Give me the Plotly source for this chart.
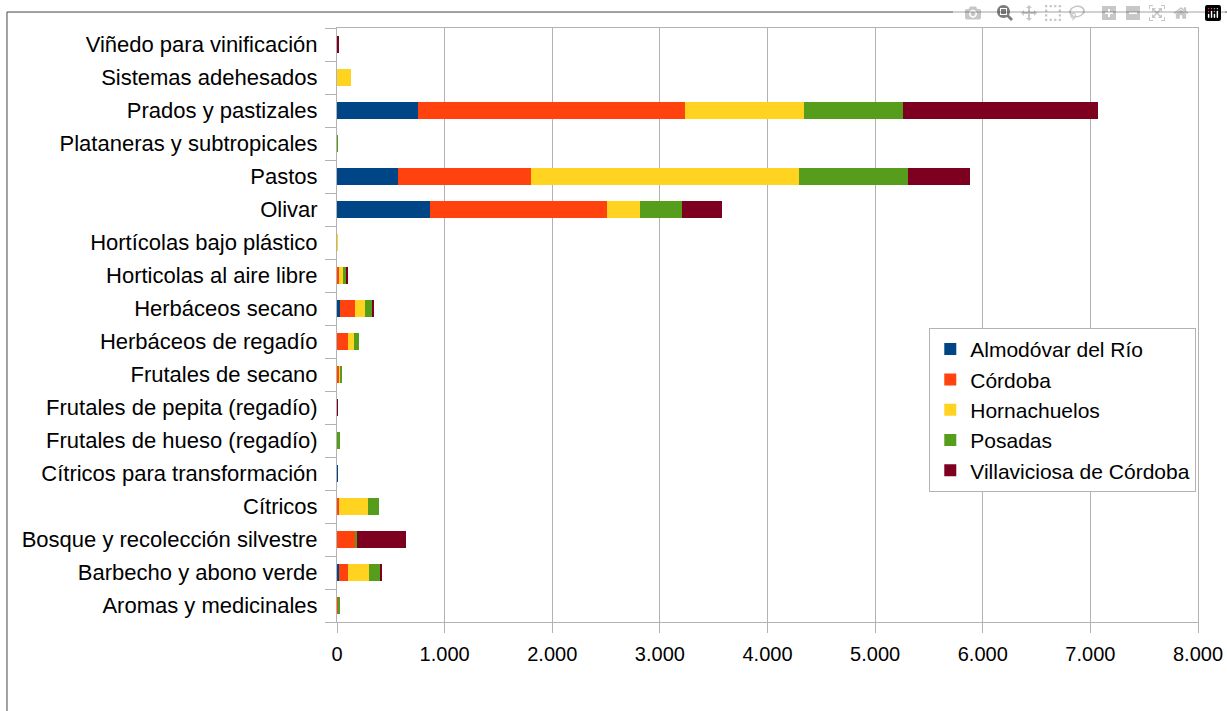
import plotly.graph_objects as go

# categories listed bottom -> top (plotly draws first category at the bottom)
categories = [
    "Aromas y medicinales",
    "Barbecho y abono verde",
    "Bosque y recolección silvestre",
    "Cítricos",
    "Cítricos para transformación",
    "Frutales de hueso (regadío)",
    "Frutales de pepita (regadío)",
    "Frutales de secano",
    "Herbáceos de regadío",
    "Herbáceos secano",
    "Horticolas al aire libre",
    "Hortícolas bajo plástico",
    "Olivar",
    "Pastos",
    "Plataneras y subtropicales",
    "Prados y pastizales",
    "Sistemas adehesados",
    "Viñedo para vinificación",
]

almodovar = [3, 19, 0, 5, 4, 0, 0, 0, 0, 28, 0, 0, 866, 569, 0, 751, 0, 3]
cordoba = [14, 83, 174, 14, 0, 0, 0, 19, 102, 139, 19, 0, 1643, 1236, 0, 2483, 0, 0]
hornachuelos = [0, 195, 0, 269, 0, 3, 0, 9, 56, 93, 37, 6, 305, 2488, 0, 1106, 130, 0]
posadas = [5, 102, 9, 102, 0, 25, 0, 18, 46, 65, 28, 0, 391, 1013, 6, 920, 0, 0]
villaviciosa = [0, 19, 458, 0, 0, 0, 5, 0, 0, 19, 9, 0, 371, 574, 0, 1812, 0, 8]

series = [
    ("Almodóvar del Río", almodovar, "#004586"),
    ("Córdoba", cordoba, "#ff420e"),
    ("Hornachuelos", hornachuelos, "#ffd320"),
    ("Posadas", posadas, "#579d1c"),
    ("Villaviciosa de Córdoba", villaviciosa, "#7e0021"),
]

fig = go.Figure()
for name, vals, color in series:
    fig.add_trace(go.Bar(
        y=categories,
        x=vals,
        name=name,
        legendgroup=name,
        orientation="h",
        marker=dict(color=color, line=dict(width=0)),
    ))

grid = "#b3b3b3"

fig.update_layout(
    barmode="stack",
    bargap=0.48,
    width=1227,
    height=711,
    margin=dict(l=337, r=29, t=28, b=89),
    plot_bgcolor="white",
    paper_bgcolor="white",
    separators=",.",
    font=dict(family="Liberation Sans, Arial, sans-serif", size=22, color="#000000"),
    showlegend=True,
    legend=dict(
        x=0.998, xanchor="right",
        y=0.495, yanchor="top",
        bordercolor=grid, borderwidth=1,
        bgcolor="white",
        font=dict(size=21),
        traceorder="normal",
        tracegroupgap=2,
        itemwidth=30,
    ),
    xaxis=dict(
        range=[0, 8000],
        dtick=1000,
        tickformat=",d",
        showgrid=True,
        gridcolor=grid,
        gridwidth=1,
        zeroline=False,
        showline=True,
        linecolor=grid,
        mirror=True,
        ticks="outside",
        ticklen=10,
        tickcolor=grid,
        ticklabelstandoff=4,
        tickfont=dict(size=20),
        automargin=False,
    ),
    yaxis=dict(
        type="category",
        categoryorder="array",
        categoryarray=categories,
        tickson="boundaries",
        showgrid=False,
        showline=True,
        linecolor=grid,
        mirror=True,
        ticks="outside",
        ticklen=11,
        tickcolor=grid,
        ticklabelstandoff=14,
        automargin=False,
    ),
)

# outer chart frame (left and top edges visible in the picture)
fig.add_shape(
    type="rect", xref="paper", yref="paper",
    x0=-0.3833, x1=1.06, y0=-0.2, y1=1.0269,
    line=dict(color="#444444", width=1),
    fillcolor="rgba(0,0,0,0)",
    layer="below",
)

# drop the default page margin so the figure fills the window exactly
fig.write_html(
    "out.html",
    post_script="document.body.style.margin='0';document.body.style.overflow='hidden';",
)
